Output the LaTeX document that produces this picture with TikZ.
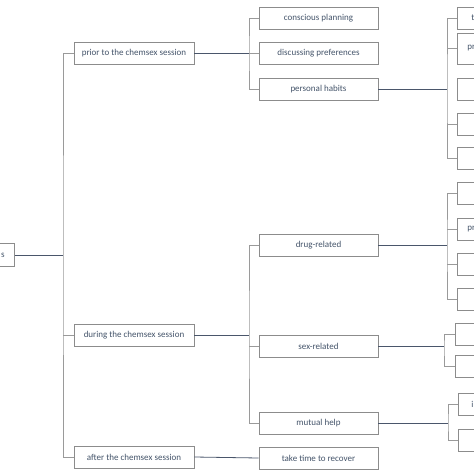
\documentclass[tikz,border=0pt]{standalone}
\usepackage{fontspec}
\setmainfont{Carlito}
\usepackage{xcolor}
\usepackage{tikz}

\definecolor{boxgray}{HTML}{8C8C8C}
\definecolor{textslate}{HTML}{44546A}
\definecolor{linenavy}{HTML}{4A566B}
\definecolor{linegray}{HTML}{9A9A9A}

\tikzset{
	box/.style={draw=boxgray, line width=0.8pt, fill=white, text=textslate,
		font=\fontsize{9}{11}\selectfont, minimum height=22pt, inner sep=0pt},
	stage/.style={box, minimum width=120pt},
	theme/.style={box, minimum width=119pt},
	leaf/.style={box, anchor=west, text width=60pt, align=left, inner xsep=10pt},
	hline/.style={draw=linenavy, line width=0.8pt},
	vline/.style={draw=linegray, line width=0.8pt}
}

\begin{document}
\begin{tikzpicture}[x=1pt, y=-1pt]
		\useasboundingbox (0,0) rectangle (474,474);
		\clip (0,0) rectangle (474,474);

		% Root
		\node[box, anchor=east, inner xsep=10pt, minimum height=23pt] (root) at (15,255) {s};

		% Stages
		\node[stage] (prior) at (134,53) {prior to the chemsex session};
		\node[stage] (during) at (134,335) {during the chemsex session};
		\node[stage] (after) at (134,457) {after the chemsex session};

		% Themes
		\node[theme] (planning) at (318.5,18) {conscious planning};
		\node[theme] (preferences) at (318.5,53) {discussing preferences};
		\node[theme] (habits) at (318.5,89) {personal habits};
		\node[theme] (drug) at (318.5,245) {drug-related};
		\node[theme] (sex) at (318.5,346) {sex-related};
		\node[theme] (mutual) at (318.5,423) {mutual help};
		\node[theme] (recover) at (318.5,458) {take time to recover};

		% Sub-themes (cut off at the right edge)
		\node[leaf, inner xsep=14pt] (habitsA) at (457,18) {t};
		\node[leaf, minimum height=31pt] (habitsB) at (457,48.5) {pr};
		\node[leaf] (habitsC) at (457,89) {};
		\node[leaf] (habitsD) at (457,124) {};
		\node[leaf] (habitsE) at (457,158) {};
		\node[leaf] (drugA) at (457,193) {};
		\node[leaf] (drugB) at (457,229) {pr};
		\node[leaf] (drugC) at (457,264) {};
		\node[leaf] (drugD) at (457,299) {};
		\node[leaf] (sexA) at (455,334) {};
		\node[leaf] (sexB) at (455,366) {};
		\node[leaf, inner xsep=13pt] (mutualA) at (458,404) {i};
		\node[leaf] (mutualB) at (458,440) {};

		% Junctions
		\coordinate (jroot) at (63,255);
		\coordinate (jprior) at (249,53);
		\coordinate (jduring) at (249,335);
		\coordinate (jhabits) at (447,89);
		\coordinate (jdrug) at (447,245);
		\coordinate (jsex) at (444,346);
		\coordinate (jmutual) at (448,423);

		% Root to stages
		\draw[hline] (root.east) -- (jroot);
		\draw[vline] (prior.west) -| (jroot) |- (after.west);
		\draw[vline] (during.west) -- (during.west -| jroot);

		% Stages to themes
		\draw[hline] (prior.east) -- (jprior);
		\draw[vline] (planning.west) -| (jprior) |- (habits.west);
		\draw[vline] (preferences.west) -- (preferences.west -| jprior);
		\draw[hline] (during.east) -- (jduring);
		\draw[vline] (drug.west) -| (jduring) |- (mutual.west);
		\draw[vline] (sex.west) -- (sex.west -| jduring);
		\draw[hline] (after.east) -- (recover.west);

		% Themes to sub-themes
		\draw[hline] (habits.east) -- (jhabits);
		\draw[vline] (habitsA.west) -| (jhabits) |- (habitsE.west);
		\draw[vline] (habitsB.west) -- (habitsB.west -| jhabits);
		\draw[vline] (habitsD.west) -- (habitsD.west -| jhabits);
		\draw[hline] (drug.east) -- (jdrug);
		\draw[vline] (drugA.west) -| (jdrug) |- (drugD.west);
		\draw[vline] (drugB.west) -- (drugB.west -| jdrug);
		\draw[vline] (drugC.west) -- (drugC.west -| jdrug);
		\draw[hline] (sex.east) -- (jsex);
		\draw[vline] (sexA.west) -| (jsex) |- (sexB.west);
		\draw[hline] (mutual.east) -- (jmutual);
		\draw[vline] (mutualA.west) -| (jmutual) |- (mutualB.west);
	\end{tikzpicture}
\end{document}
